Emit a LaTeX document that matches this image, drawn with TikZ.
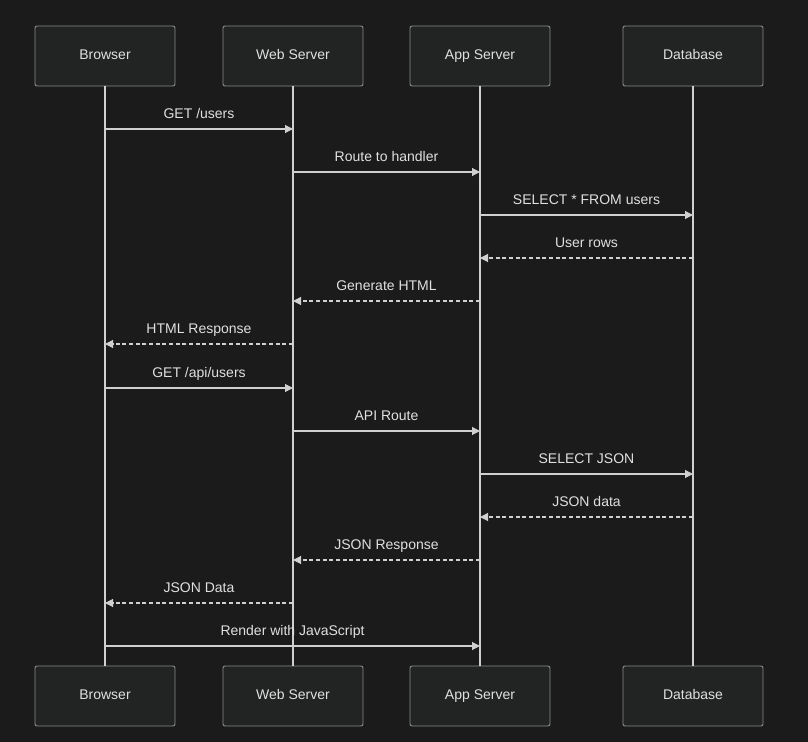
\documentclass[tikz,border=0pt]{standalone}
\usepackage{fontspec}
\setmainfont{Liberation Sans}
\usetikzlibrary{arrows.meta}
\definecolor{bg}{HTML}{1B1B1B}
\definecolor{boxfill}{HTML}{222424}
\definecolor{boxline}{HTML}{8A8A8A}
\definecolor{txt}{HTML}{E0E0E0}
\definecolor{ln}{HTML}{D0D0D0}
\begin{document}
\begin{tikzpicture}[x=0.75pt,y=-0.75pt,
  actor/.style={draw=boxline,fill=boxfill,rounded corners=1.5pt,minimum width=105pt,minimum height=45pt,text=txt,font=\fontsize{10.5}{12}\selectfont,line width=0.7pt,text height=7.5pt,text depth=2pt},
  life/.style={draw=ln,line width=0.8pt},
  msg/.style={draw=ln,line width=0.8pt,-{Triangle[length=6pt,width=6pt]}},
  ret/.style={msg,densely dashed},
  lbl/.style={text=txt,font=\fontsize{10.5}{12}\selectfont,above=2pt,text height=7.5pt,text depth=2pt}]
\fill[bg] (0,0) rectangle (808,742);
\useasboundingbox (0,0) rectangle (808,742);
\foreach \n/\x/\t in {b/105/Browser,w/293/Web Server,a/480/App Server,d/693/Database}{
  \node[actor] (\n top) at (\x,56) {\t};
  \node[actor] (\n bot) at (\x,696) {\t};
  \draw[life] (\n top.south) -- (\n bot.north);
}
\foreach \i/\f/\t/\y/\s/\l in {
 1/b/w/129/msg/{GET /users},
 2/w/a/172/msg/Route to handler,
 3/a/d/215/msg/SELECT * FROM users,
 4/d/a/258/ret/User rows,
 5/a/w/301/ret/Generate HTML,
 6/w/b/344/ret/HTML Response,
 7/b/w/388/msg/{GET /api/users},
 8/w/a/431/msg/API Route,
 9/a/d/474/msg/SELECT JSON,
 10/d/a/517/ret/JSON data,
 11/a/w/560/ret/JSON Response,
 12/w/b/603/ret/JSON Data,
 13/b/a/646/msg/Render with JavaScript}{
  \coordinate (s\i) at (\f top.south |- 0,\y);
  \coordinate (e\i) at (\t top.south |- 0,\y);
  \draw[\s] (s\i) -- (e\i) node[midway,lbl] {\l};
}
\end{tikzpicture}
\end{document}
